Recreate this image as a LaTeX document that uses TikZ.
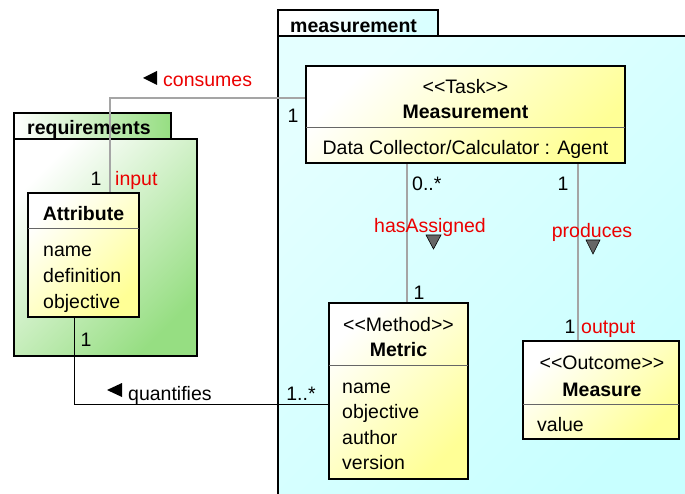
\documentclass[tikz,border=0pt]{standalone}
\usepackage{fontspec}
\setmainfont{Liberation Sans}
\definecolor{clsyellow}{RGB}{255,255,150}
\definecolor{pkggreen}{RGB}{150,222,130}
\definecolor{pkgcyan}{RGB}{200,255,255}
\definecolor{linkgray}{RGB}{165,165,165}
\definecolor{rolered}{RGB}{235,0,0}
\begin{document}
\begin{tikzpicture}[
        x=1pt, y=-1pt,
        every node/.style={inner sep=0pt, text height=18pt, text depth=4pt,
          font=\fontsize{19.5}{23}\selectfont},
        cls/.style={
          draw,
          line width=2.4pt,
          top color=white,
          bottom color=clsyellow,
          shading angle=45
        },
        pkg/.style={draw, line width=2pt},
        divider/.style={draw=black!60, line width=1pt},
        link/.style={draw=linkgray, line width=1.5pt},
        role/.style={text=rolered},
        dirmark/.style={fill=black!60, draw=black, line width=0.6pt}
      ]
      \useasboundingbox (0,0) rectangle (685,494);

      \draw[pkg, top color=white, bottom color=pkgcyan!70, shading angle=45]
        (278,10) rectangle (438,36);
      \draw[pkg, top color=white!50!pkgcyan, bottom color=pkgcyan, shading angle=45]
        (278,36) rectangle (700,510);
      \node[font=\fontsize{19.5}{23}\selectfont\bfseries, anchor=west] (measpkg) at (290,26) {measurement};

      \draw[pkg, left color=white, right color=pkggreen]
        (14,113) rectangle (171,139);
      \draw[pkg, top color=white, bottom color=pkggreen, shading angle=45]
        (14,139) rectangle (197,356);
      \node[font=\fontsize{19.5}{23}\selectfont\bfseries, anchor=west] (reqpkg) at (27,128) {requirements};

      \node[cls, minimum width=319pt, minimum height=97pt] (task) at (465.5,114.5) {};
      \node[cls, minimum width=111pt, minimum height=124pt] (attribute) at (83.5,255) {};
      \node[cls, minimum width=139pt, minimum height=176pt] (metric) at (398.5,391) {};
      \node[cls, minimum width=156pt, minimum height=98pt] (measure) at (601,390) {};

      \draw[link] ([yshift=16.5pt]task.west) -| ([xshift=26.5pt]attribute.north);
      \draw[link] ([xshift=8.5pt]metric.north) -- ([xshift=8.5pt]metric.north |- task.south);
      \draw[link] ([xshift=-23pt]measure.north) -- ([xshift=-23pt]measure.north |- task.south);
      \draw[line width=1pt] ([xshift=-9.5pt]attribute.south) |- ([yshift=-13pt]metric.west);

      \draw[divider] ([xshift=1.2pt]task.west |- 0,128) -- ([xshift=-1.2pt]task.east |- 0,128);
      \draw[divider] ([xshift=1.2pt]attribute.west |- 0,229) -- ([xshift=-1.2pt]attribute.east |- 0,229);
      \draw[divider] ([xshift=1.2pt]metric.west |- 0,365) -- ([xshift=-1.2pt]metric.east |- 0,365);
      \draw[divider] ([xshift=1.2pt]measure.west |- 0,404) -- ([xshift=-1.2pt]measure.east |- 0,404);

      \node (taskst) at (465.5,87) {<{}<Task>{}>};
      \node[font=\fontsize{19.5}{23}\selectfont\bfseries] (taskname) at (465.5,112) {Measurement};
      \node (taskattr) at (465.5,148) {Data Collector/Calculator : Agent};

      \node[font=\fontsize{19.5}{23}\selectfont\bfseries] (attrname) at (83.5,214) {Attribute};
      \node[anchor=west] (attra) at (43,250) {name};
      \node[anchor=west] (attrb) at (43,276) {definition};
      \node[anchor=west] (attrc) at (43,301) {objective};

      \node (metricst) at (398.5,324) {<{}<Method>{}>};
      \node[font=\fontsize{19.5}{23}\selectfont\bfseries] (metricname) at (398.5,349) {Metric};
      \node[anchor=west] (metrica) at (342,386) {name};
      \node[anchor=west] (metricb) at (342,411) {objective};
      \node[anchor=west] (metricc) at (342,437) {author};
      \node[anchor=west] (metricd) at (342,462) {version};

      \node (measurest) at (602,362) {<{}<Outcome>{}>};
      \node[font=\fontsize{19.5}{23}\selectfont\bfseries] (measurename) at (602,389) {Measure};
      \node[anchor=west] (measurea) at (537,424) {value};

      \fill (143,78) -- (157,71) -- (157,85) -- cycle;
      \node[role, anchor=west] (consumes) at (163,80) {consumes};
      \node (consumesm) at (293,116) {1};
      \node (inputm) at (96,179) {1};
      \node[role, anchor=west] (input) at (115,179) {input};

      \node[anchor=west] (assignedm) at (412,184) {0..*};
      \node[role] (assigned) at (430,226) {hasAssigned};
      \draw[dirmark] (426,235) -- (441,235) -- (433.5,249) -- cycle;
      \node (metricm) at (419,292) {1};

      \node (producesm) at (563,184) {1};
      \node[role] (produces) at (592,231) {produces};
      \draw[dirmark] (586,240) -- (600,240) -- (593,254) -- cycle;
      \node (outputm) at (570,326) {1};
      \node[role, anchor=west] (output) at (581,326) {output};

      \node (quantm) at (86,339) {1};
      \fill (107,390) -- (122,383) -- (122,397) -- cycle;
      \node[anchor=west] (quantifies) at (128,393) {quantifies};
      \node (quantmetric) at (301,393) {1..*};
    \end{tikzpicture}
\end{document}
